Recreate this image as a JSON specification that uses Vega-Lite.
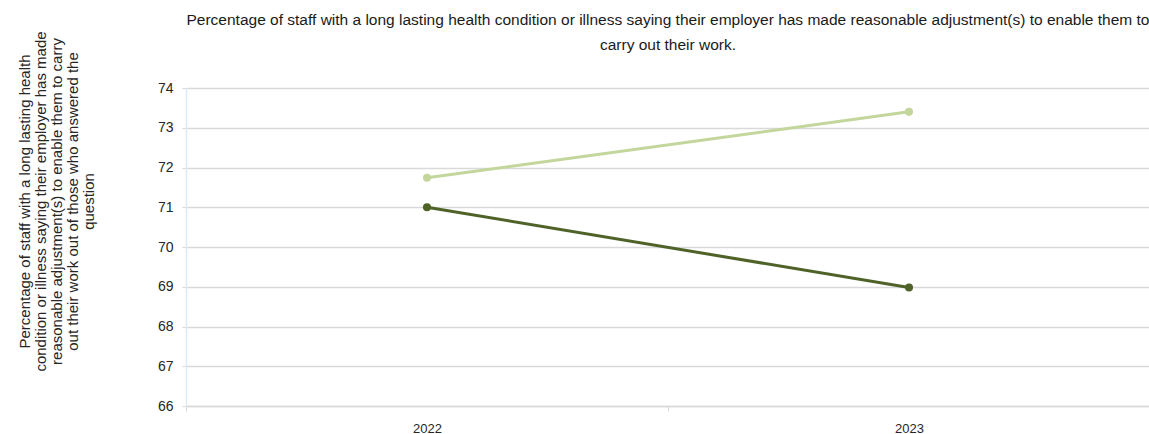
{
  "$schema": "https://vega.github.io/schema/vega-lite/v6.json",
  "width": 964,
  "height": 318,
  "autosize": {"type": "none"},
  "padding": {"left": 186, "top": 88, "right": 0, "bottom": 28},
  "background": "white",
  "title": {
    "text": ["Percentage of staff with a long lasting health condition or illness saying their employer has made reasonable adjustment(s) to enable them to", "carry out their work."],
    "font": "Liberation Sans",
    "fontSize": 15.5,
    "fontWeight": "normal",
    "color": "#1a1a1a",
    "lineHeight": 25,
    "anchor": "middle",
    "offset": -23
  },
  "config": {
    "view": {"stroke": null},
    "font": "Liberation Sans"
  },
  "data": {
    "values": [
      {"year": "2022", "series": "Trust", "value": 71.74},
      {"year": "2023", "series": "Trust", "value": 73.4},
      {"year": "2022", "series": "Average", "value": 71.0},
      {"year": "2023", "series": "Average", "value": 68.98}
    ]
  },
  "mark": {"type": "line", "strokeWidth": 3, "point": {"size": 65, "filled": true}},
  "encoding": {
    "x": {
      "field": "year",
      "type": "nominal",
      "scale": {"type": "band", "paddingInner": 0, "paddingOuter": 0},
      "axis": {
        "title": null,
        "labelAngle": 0,
        "labelFontSize": 13,
        "labelColor": "#262626",
        "labelPadding": 11,
        "domainColor": "#d9d9d9",
        "domainWidth": 1.5,
        "tickBand": "extent",
        "tickColor": "#d9d9d9",
        "tickSize": 5,
        "grid": false
      }
    },
    "y": {
      "field": "value",
      "type": "quantitative",
      "scale": {"domain": [66, 74], "nice": false, "zero": false},
      "axis": {
        "values": [66, 67, 68, 69, 70, 71, 72, 73, 74],
        "title": ["Percentage of staff with a long lasting health", "condition or illness saying their employer has made", "reasonable adjustment(s) to enable them to carry", "out their work out of those who answered the", "question"],
        "titleFont": "Liberation Sans",
        "titleFontSize": 15,
        "titleFontWeight": "normal",
        "titleColor": "#262626",
        "titleAngle": -90,
        "titleAlign": "center",
        "titleBaseline": "top",
        "titleLineHeight": 16,
        "titleX": -169,
        "titleY": 113,
        "labelFontSize": 14,
        "labelColor": "#262626",
        "labelPadding": 9,
        "grid": true,
        "gridColor": "#d9d9d9",
        "gridWidth": 1.5,
        "domainColor": "#ddebf7",
        "domainWidth": 1.5,
        "tickColor": "#d9d9d9",
        "tickSize": 4
      }
    },
    "color": {
      "field": "series",
      "type": "nominal",
      "scale": {"domain": ["Trust", "Average"], "range": ["#c3d69b", "#4f6228"]},
      "legend": null
    }
  }
}
